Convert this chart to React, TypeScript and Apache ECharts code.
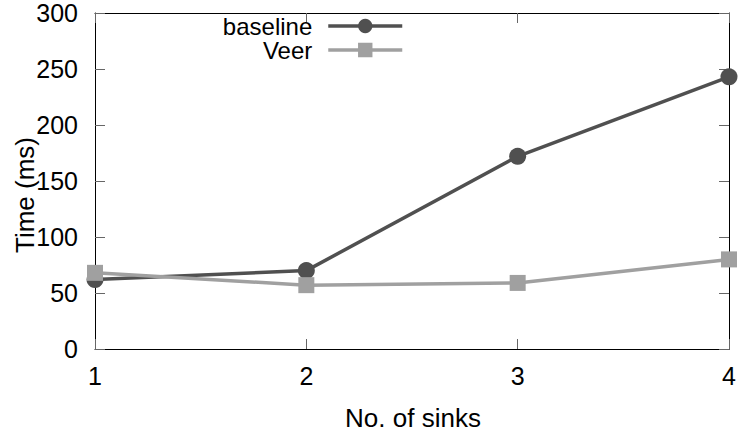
import React, { useEffect, useRef } from "react";
import * as echarts from "echarts";

// Number of sinks on the x axis
const sinks = [1, 2, 3, 4];
// Time in milliseconds per configuration
const baselineTimes = [62, 70, 172, 243];
const veerTimes = [68, 57, 59, 80];
// Axis ticks
const yTicks = [0, 50, 100, 150, 200, 250, 300];

const FONT = "'Liberation Sans', Arial, Helvetica, sans-serif";

export default function App() {
  const ref = useRef<HTMLDivElement>(null);

  useEffect(() => {
    if (!ref.current) return;
    const chart = echarts.init(ref.current, null, { renderer: "svg" });

    const tickStyle = { show: true, inside: true, length: 10, lineStyle: { color: "#666", width: 1 } };
    const frameLine = { show: true, onZero: false, lineStyle: { color: "#000", width: 1 } };

    chart.setOption({
      animation: false,
      backgroundColor: "#fff",
      textStyle: { fontFamily: FONT },
      grid: { left: 95, right: 10, top: 13, bottom: 86, outerBoundsMode: "none" },
      legend: {
        orient: "vertical",
        align: "right",
        right: 335,
        top: 14,
        padding: 0,
        itemWidth: 74,
        itemHeight: 18,
        itemGap: 0,
        lineStyle: { width: 3.5 },
        textStyle: { fontSize: 24, color: "#000", fontFamily: FONT, padding: [0, 11, 0, 0] },
        data: ["baseline", "Veer"],
      },
      xAxis: [
        {
          type: "value",
          min: sinks[0],
          max: sinks[sinks.length - 1],
          interval: 1,
          position: "bottom",
          axisLine: frameLine,
          axisTick: tickStyle,
          splitLine: { show: false },
          axisLabel: { fontSize: 25, color: "#000", margin: 14, fontFamily: FONT },
        },
        {
          type: "value",
          min: sinks[0],
          max: sinks[sinks.length - 1],
          interval: 1,
          position: "top",
          axisLine: frameLine,
          axisTick: tickStyle,
          splitLine: { show: false },
          axisLabel: { show: false },
        },
      ],
      yAxis: [
        {
          type: "value",
          min: yTicks[0],
          max: yTicks[yTicks.length - 1],
          interval: 50,
          position: "left",
          axisLine: frameLine,
          axisTick: tickStyle,
          splitLine: { show: false },
          axisLabel: { fontSize: 25, color: "#000", margin: 17, fontFamily: FONT },
        },
        {
          type: "value",
          min: yTicks[0],
          max: yTicks[yTicks.length - 1],
          interval: 50,
          position: "right",
          axisLine: frameLine,
          axisTick: tickStyle,
          splitLine: { show: false },
          axisLabel: { show: false },
        },
      ],
      graphic: [
        {
          type: "text",
          x: 25,
          y: 195,
          rotation: Math.PI / 2,
          style: {
            text: "Time (ms)",
            fontSize: 26,
            fontFamily: FONT,
            fill: "#000",
            align: "center",
            verticalAlign: "middle",
          },
        },
        {
          type: "text",
          x: 413,
          y: 418,
          style: {
            text: "No. of sinks",
            fontSize: 26,
            fontFamily: FONT,
            fill: "#000",
            align: "center",
            verticalAlign: "middle",
          },
        },
      ],
      series: [
        {
          name: "baseline",
          type: "line",
          data: sinks.map((s, i) => [s, baselineTimes[i]]),
          symbol: "circle",
          symbolSize: 17,
          clip: false,
          lineStyle: { color: "#505050", width: 3.5 },
          itemStyle: { color: "#505050" },
          z: 2,
        },
        {
          name: "Veer",
          type: "line",
          data: sinks.map((s, i) => [s, veerTimes[i]]),
          symbol: "rect",
          symbolSize: 16,
          clip: false,
          lineStyle: { color: "#a0a0a0", width: 3.5 },
          itemStyle: { color: "#a0a0a0" },
          z: 3,
        },
      ],
    });

    return () => chart.dispose();
  }, []);

  return <div ref={ref} style={{ width: 739, height: 435, position: "absolute", left: 0, top: 0 }} />;
}
